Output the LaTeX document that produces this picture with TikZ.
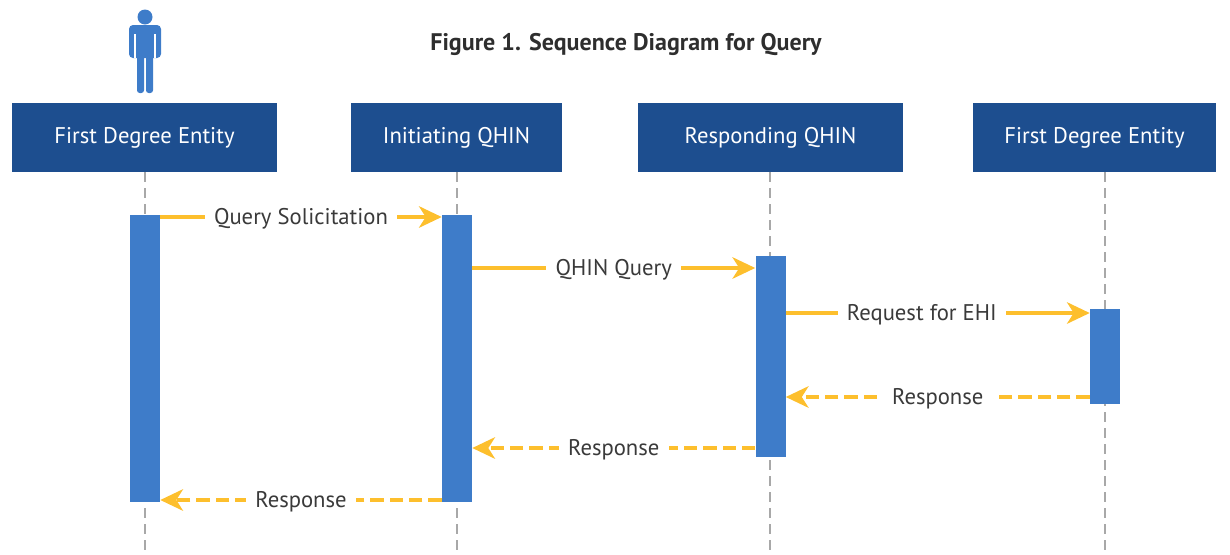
\documentclass[tikz,border=0pt]{standalone}
\usepackage{fontspec}
\setmainfont{PT Sans}
\usetikzlibrary{arrows.meta}
\definecolor{boxblue}{HTML}{1D4E8F}
\definecolor{barblue}{HTML}{3E7CC9}
\definecolor{msgyellow}{HTML}{FDBF2D}
\definecolor{lifegray}{HTML}{A8A8A8}
\definecolor{titlegray}{HTML}{2E2E2E}
\definecolor{labelgray}{HTML}{3A3A3A}
\tikzset{
	entity/.style={fill=boxblue, text=white, minimum height=51.75pt, inner sep=0pt, font=\fontsize{17}{20}\selectfont},
	lifeline/.style={lifegray, line width=1.5pt, dash pattern=on 7pt off 5pt},
	activebar/.style={fill=barblue, draw=none, inner sep=0pt, minimum width=22.5pt},
	msg/.style={msgyellow, line width=3.6pt, -{Stealth[length=17pt, width=16pt, inset=5pt]}},
	reply/.style={msg, dash pattern=on 10pt off 4.5pt},
	msglabel/.style={fill=white, text=labelgray, inner xsep=7pt, inner ysep=1pt, yshift=-1.5pt, font=\fontsize{17}{20}\selectfont},
}
\begin{document}
\begin{tikzpicture}[x=0.75pt, y=-0.75pt]
			%%%%% START %%%%%
			
			\useasboundingbox (0, 0) rectangle (1230, 554);
			
			% actor
			\fill[barblue] (145, 17) circle (7.5);
			\fill[barblue, rounded corners=3] (129, 58) -- (129, 25) -- (161, 25) -- (161, 58) -- cycle;
			\fill[barblue, rounded corners=2] (137, 55) rectangle (144, 93);
			\fill[barblue, rounded corners=2] (146, 55) rectangle (153, 93);
			\draw[white, line width=0.9pt] (135, 34) -- (135, 58);
			\draw[white, line width=0.9pt] (155, 34) -- (155, 58);
			
			\node[font=\fontsize{18}{21}\selectfont\bfseries, text=titlegray] (title) at (626, 45) {Figure 1. Sequence Diagram for Query};
			
			% entities
			\node[entity, minimum width=198.75pt] (fde1) at (144.5, 137.5) {First Degree Entity};
			\node[entity, minimum width=158.25pt] (iqhin) at (456.5, 137.5) {Initiating QHIN};
			\node[entity, minimum width=198.75pt] (rqhin) at (770.5, 137.5) {Responding QHIN};
			\node[entity, minimum width=182.25pt] (fde2) at (1094.5, 137.5) {First Degree Entity};
			
			% lifelines
			\coordinate (end1) at (145, 554);
			\coordinate (end2) at (457, 554);
			\coordinate (end3) at (770, 554);
			\coordinate (end4) at (1105, 554);
			\draw[lifeline] (fde1.south -| end1) -- (end1);
			\draw[lifeline] (iqhin.south -| end2) -- (end2);
			\draw[lifeline] (rqhin.south -| end3) -- (end3);
			\draw[lifeline] (fde2.south -| end4) -- (end4);
			
			% activation bars
			\node[activebar, minimum height=215.25pt] (bar1) at (145, 358.5) {};
			\node[activebar, minimum height=215.25pt] (bar2) at (457, 358.5) {};
			\node[activebar, minimum height=150.75pt] (bar3) at (770.5, 356.5) {};
			\node[activebar, minimum height=71.25pt] (bar4) at (1105, 356.5) {};
			
			% messages
			\draw[msg] (bar1.east |- 0, 217) -- node[msglabel] {Query Solicitation} (bar2.west |- 0, 217);
			\draw[msg] (bar2.east |- 0, 268) -- node[msglabel] {QHIN Query} (bar3.west |- 0, 268);
			\draw[msg] (bar3.east |- 0, 313) -- node[msglabel, xshift=-12pt] {Request for EHI} (bar4.west |- 0, 313);
			\draw[reply] (bar4.west |- 0, 397) -- node[msglabel] {Response} (bar3.east |- 0, 397);
			\draw[reply] (bar3.west |- 0, 448) -- node[msglabel] {Response} (bar2.east |- 0, 448);
			\draw[reply] (bar2.west |- 0, 500) -- node[msglabel] {Response} (bar1.east |- 0, 500);
			
			%%%%% END %%%%%
\end{tikzpicture}
\end{document}
